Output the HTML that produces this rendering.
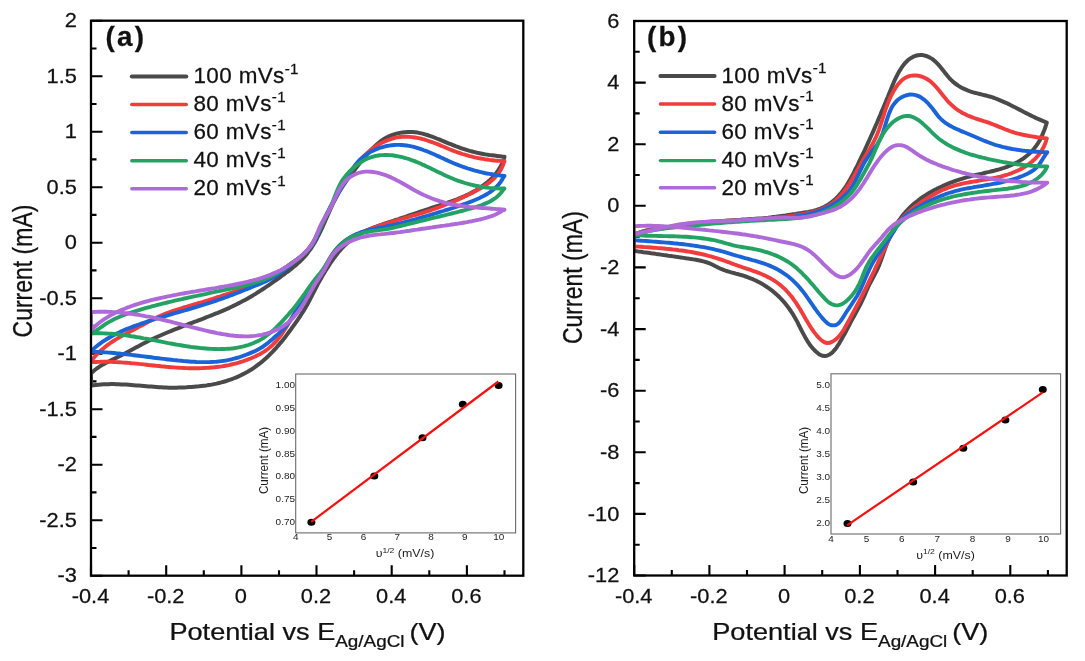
<!DOCTYPE html><html><head><meta charset="utf-8"><style>html,body{margin:0;padding:0;background:#fff;width:1085px;height:661px;overflow:hidden}svg{display:block;filter:blur(0.4px)}text{font-family:"Liberation Sans",sans-serif;fill:#111;stroke:#111;stroke-width:0.25px}text.sm{stroke:none;fill:#1c1c1c}</style></head><body>
<svg width="1085" height="661" viewBox="0 0 1085 661">
<defs><clipPath id="ca"><rect x="91.0" y="20.7" width="432.3" height="555.0"/></clipPath></defs>
<path d="M91.0,575.7v-10.5 M128.6,575.7v-5.5 M166.2,575.7v-10.5 M203.8,575.7v-5.5 M241.4,575.7v-10.5 M279.0,575.7v-5.5 M316.5,575.7v-10.5 M354.1,575.7v-5.5 M391.7,575.7v-10.5 M429.3,575.7v-5.5 M466.9,575.7v-10.5 M504.5,575.7v-5.5 M91.0,20.7h11.5 M91.0,48.5h5.5 M91.0,76.2h11.5 M91.0,104.0h5.5 M91.0,131.7h11.5 M91.0,159.4h5.5 M91.0,187.2h11.5 M91.0,214.9h5.5 M91.0,242.7h11.5 M91.0,270.4h5.5 M91.0,298.2h11.5 M91.0,325.9h5.5 M91.0,353.7h11.5 M91.0,381.4h5.5 M91.0,409.2h11.5 M91.0,436.9h5.5 M91.0,464.7h11.5 M91.0,492.4h5.5 M91.0,520.2h11.5 M91.0,548.0h5.5 M91.0,575.7h11.5" stroke="#000" stroke-width="2.1" fill="none"/>
<g clip-path="url(#ca)" fill="none" stroke-linejoin="round" stroke-linecap="round">
<path d="M91.0,373.5 L92.8,371.7 94.8,370.0 96.8,368.5 98.8,367.1 100.9,365.7 103.1,364.4 105.3,363.2 107.5,362.1 109.8,360.9 112.0,359.8 114.3,358.7 116.6,357.6 118.9,356.5 121.1,355.4 123.4,354.2 125.6,353.1 127.8,351.9 130.0,350.7 132.3,349.5 134.5,348.3 136.7,347.1 138.9,346.0 141.1,344.8 143.4,343.6 145.6,342.5 147.8,341.3 150.1,340.2 152.3,339.1 154.6,338.1 156.9,337.0 159.2,336.0 161.5,335.0 163.8,334.0 166.1,333.0 168.5,332.0 170.8,331.1 173.1,330.1 175.5,329.2 177.8,328.3 180.2,327.3 182.5,326.4 184.9,325.5 187.3,324.6 189.6,323.7 192.0,322.8 194.3,321.9 196.7,321.1 199.1,320.2 201.4,319.3 203.8,318.4 206.1,317.4 208.5,316.5 210.8,315.6 213.2,314.7 215.5,313.7 217.8,312.8 220.1,311.8 222.5,310.8 224.8,309.8 227.1,308.8 229.4,307.8 231.6,306.7 233.9,305.6 236.2,304.5 238.4,303.4 240.6,302.3 242.9,301.1 245.1,299.9 247.3,298.7 249.4,297.5 251.6,296.2 253.8,294.9 255.9,293.6 258.0,292.2 260.1,290.9 262.3,289.5 264.4,288.1 266.5,286.7 268.5,285.3 270.6,283.8 272.7,282.4 274.8,280.9 276.8,279.5 278.9,278.0 281.0,276.5 283.0,275.0 285.1,273.5 287.1,272.0 289.2,270.5 291.2,268.9 293.1,267.3 295.1,265.7 297.0,264.1 298.8,262.4 300.7,260.7 302.4,259.0 304.1,257.1 305.8,255.3 307.3,253.4 308.8,251.4 310.3,249.4 311.7,247.3 313.0,245.2 314.3,243.1 315.6,240.9 316.8,238.7 317.9,236.4 319.1,234.2 320.2,231.9 321.3,229.6 322.4,227.3 323.4,224.9 324.4,222.6 325.5,220.2 326.5,217.9 327.5,215.6 328.6,213.2 329.6,210.9 330.6,208.6 331.7,206.3 332.8,204.0 333.9,201.7 335.0,199.5 336.2,197.3 337.4,195.1 338.6,192.9 339.8,190.8 341.1,188.7 342.5,186.6 343.8,184.5 345.3,182.5 346.7,180.4 348.2,178.4 349.7,176.4 351.3,174.4 352.8,172.3 354.3,170.3 355.8,168.3 357.4,166.3 358.9,164.3 360.5,162.3 362.1,160.3 363.7,158.4 365.3,156.4 366.9,154.5 368.6,152.6 370.3,150.8 372.1,149.0 373.9,147.2 375.7,145.5 377.6,143.8 379.5,142.2 381.5,140.7 383.5,139.3 385.7,138.0 387.9,136.9 390.2,135.8 392.5,134.9 394.9,134.1 397.4,133.4 399.9,132.9 402.4,132.5 404.9,132.2 407.5,132.0 410.0,132.0 412.6,132.1 415.1,132.3 417.6,132.6 420.0,133.1 422.5,133.6 424.9,134.3 427.3,135.0 429.7,135.8 432.0,136.6 434.4,137.5 436.7,138.5 439.1,139.4 441.4,140.4 443.8,141.3 446.1,142.3 448.4,143.3 450.8,144.2 453.1,145.1 455.5,146.1 457.8,146.9 460.2,147.8 462.5,148.6 464.9,149.4 467.3,150.2 469.7,150.9 472.2,151.5 474.6,152.1 477.1,152.7 479.5,153.2 482.0,153.7 484.5,154.2 487.0,154.6 489.5,155.0 492.0,155.3 494.5,155.6 497.0,155.9 499.5,156.2 502.0,156.5 504.5,156.7  L503.8,159.2 502.9,161.6 501.9,163.9 500.8,166.2 499.5,168.3 498.2,170.4 496.7,172.5 495.2,174.4 493.6,176.3 491.9,178.1 490.1,179.9 488.2,181.6 486.3,183.2 484.3,184.7 482.2,186.2 480.1,187.7 478.0,189.0 475.8,190.4 473.6,191.6 471.4,192.8 469.1,194.0 466.8,195.1 464.6,196.1 462.2,197.1 459.9,198.1 457.6,199.1 455.2,200.0 452.9,200.8 450.5,201.7 448.1,202.5 445.8,203.3 443.4,204.1 441.0,204.9 438.6,205.7 436.2,206.4 433.8,207.2 431.4,208.0 429.0,208.8 426.6,209.6 424.2,210.4 421.9,211.2 419.5,212.0 417.1,212.8 414.7,213.6 412.3,214.4 410.0,215.2 407.6,216.0 405.2,216.9 402.8,217.7 400.4,218.5 398.0,219.3 395.6,220.0 393.2,220.8 390.8,221.6 388.4,222.4 386.0,223.2 383.6,224.0 381.2,224.8 378.8,225.6 376.4,226.5 374.1,227.4 371.7,228.3 369.4,229.3 367.1,230.4 364.9,231.5 362.6,232.6 360.4,233.8 358.3,235.1 356.1,236.4 354.1,237.8 352.0,239.3 350.0,240.8 348.1,242.4 346.2,244.0 344.4,245.7 342.6,247.5 340.9,249.4 339.2,251.3 337.6,253.2 336.1,255.2 334.6,257.2 333.1,259.3 331.6,261.3 330.2,263.4 328.8,265.6 327.5,267.7 326.1,269.8 324.8,272.0 323.5,274.1 322.2,276.3 321.0,278.5 319.7,280.7 318.5,282.9 317.3,285.1 316.2,287.4 315.0,289.6 313.9,291.9 312.7,294.1 311.6,296.3 310.4,298.6 309.3,300.8 308.1,303.0 306.9,305.2 305.6,307.4 304.4,309.5 303.1,311.6 301.7,313.7 300.4,315.8 299.0,317.9 297.6,320.0 296.1,322.1 294.7,324.1 293.2,326.2 291.8,328.2 290.3,330.3 288.8,332.3 287.2,334.4 285.7,336.4 284.1,338.4 282.5,340.4 280.9,342.4 279.3,344.3 277.6,346.2 276.0,348.1 274.2,350.0 272.5,351.8 270.7,353.6 269.0,355.4 267.1,357.2 265.3,358.9 263.4,360.5 261.5,362.1 259.5,363.7 257.5,365.2 255.5,366.7 253.5,368.1 251.4,369.5 249.2,370.8 247.1,372.1 244.9,373.3 242.6,374.4 240.4,375.5 238.1,376.6 235.8,377.6 233.4,378.5 231.1,379.4 228.7,380.2 226.3,381.0 223.8,381.7 221.4,382.4 219.0,383.0 216.5,383.6 214.0,384.1 211.5,384.6 209.0,385.0 206.5,385.4 204.0,385.7 201.5,386.0 199.0,386.3 196.5,386.5 194.0,386.7 191.5,386.9 189.0,387.1 186.5,387.3 184.0,387.4 181.5,387.5 179.0,387.6 176.4,387.7 173.9,387.7 171.4,387.7 168.9,387.7 166.4,387.6 163.9,387.5 161.4,387.3 158.9,387.2 156.4,387.0 153.8,386.8 151.3,386.6 148.8,386.4 146.3,386.2 143.8,386.0 141.3,385.8 138.8,385.6 136.3,385.4 133.7,385.2 131.2,385.0 128.7,384.8 126.2,384.6 123.7,384.5 121.2,384.4 118.7,384.3 116.1,384.2 113.6,384.1 111.1,384.1 108.6,384.2 106.1,384.2 103.6,384.3 101.1,384.5 98.5,384.7 96.0,384.9 93.5,385.2 91.0,385.6 Z" stroke="#4a4a4a" stroke-width="4.0"/>
<path d="M91.0,361.0 L92.6,359.1 94.3,357.2 96.0,355.3 97.8,353.5 99.6,351.7 101.4,350.0 103.3,348.4 105.3,346.8 107.3,345.2 109.3,343.8 111.3,342.3 113.4,341.0 115.6,339.6 117.7,338.4 119.9,337.1 122.1,335.9 124.3,334.7 126.5,333.5 128.8,332.3 131.0,331.1 133.2,330.0 135.5,328.8 137.7,327.6 139.9,326.4 142.2,325.2 144.4,324.0 146.6,322.8 148.8,321.6 151.0,320.5 153.2,319.3 155.5,318.2 157.7,317.1 160.0,316.0 162.3,315.0 164.6,314.1 167.0,313.2 169.3,312.3 171.7,311.4 174.0,310.6 176.4,309.8 178.8,309.0 181.2,308.3 183.6,307.5 186.1,306.8 188.5,306.1 190.9,305.4 193.3,304.7 195.8,304.0 198.2,303.2 200.6,302.5 203.0,301.8 205.4,301.0 207.8,300.3 210.2,299.5 212.6,298.8 215.0,298.0 217.4,297.2 219.8,296.5 222.2,295.7 224.6,294.9 227.0,294.1 229.4,293.3 231.8,292.5 234.2,291.7 236.5,290.8 238.9,290.0 241.3,289.2 243.7,288.3 246.0,287.5 248.4,286.6 250.7,285.7 253.1,284.8 255.4,283.8 257.7,282.8 260.0,281.8 262.3,280.8 264.5,279.8 266.8,278.7 269.0,277.5 271.2,276.3 273.4,275.1 275.6,273.9 277.8,272.6 279.9,271.2 282.0,269.8 284.1,268.4 286.2,267.0 288.3,265.5 290.4,264.1 292.5,262.6 294.6,261.2 296.7,259.7 298.8,258.2 300.8,256.7 302.7,255.0 304.5,253.4 306.2,251.6 307.9,249.7 309.4,247.8 310.8,245.7 312.2,243.7 313.5,241.5 314.7,239.3 315.9,237.1 317.0,234.8 318.1,232.5 319.2,230.2 320.3,227.9 321.4,225.6 322.4,223.4 323.5,221.1 324.6,218.8 325.7,216.6 326.8,214.4 328.0,212.2 329.1,209.9 330.3,207.7 331.4,205.5 332.6,203.3 333.8,201.1 334.9,198.9 336.1,196.6 337.3,194.4 338.5,192.2 339.7,189.9 341.0,187.7 342.2,185.5 343.5,183.3 344.8,181.1 346.1,179.0 347.5,176.8 348.9,174.7 350.3,172.6 351.7,170.5 353.2,168.5 354.7,166.5 356.3,164.5 357.9,162.6 359.5,160.7 361.2,158.8 362.9,157.0 364.7,155.3 366.6,153.6 368.5,151.9 370.4,150.3 372.4,148.8 374.4,147.3 376.5,145.9 378.7,144.5 380.9,143.3 383.1,142.1 385.4,141.1 387.7,140.1 390.1,139.3 392.4,138.5 394.8,137.9 397.3,137.4 399.8,137.0 402.2,136.8 404.7,136.7 407.3,136.7 409.8,136.9 412.3,137.1 414.8,137.5 417.4,137.9 419.9,138.4 422.4,139.0 424.8,139.7 427.3,140.5 429.7,141.3 432.0,142.1 434.4,143.0 436.7,143.9 439.1,144.9 441.4,145.9 443.7,146.8 446.0,147.8 448.3,148.8 450.6,149.7 452.9,150.6 455.2,151.5 457.6,152.4 460.0,153.2 462.4,154.0 464.8,154.7 467.2,155.4 469.6,156.1 472.1,156.7 474.6,157.3 477.0,157.8 479.5,158.3 482.0,158.7 484.5,159.2 487.0,159.5 489.5,159.9 492.0,160.2 494.5,160.5 497.0,160.7 499.5,160.9 502.0,161.1 504.5,161.2  L503.8,162.8 503.0,165.2 502.0,167.5 500.8,169.7 499.5,171.8 498.1,173.8 496.6,175.7 494.9,177.5 493.2,179.2 491.3,180.8 489.4,182.4 487.4,183.9 485.3,185.3 483.2,186.7 481.0,188.0 478.8,189.3 476.5,190.5 474.3,191.7 472.0,192.9 469.7,194.1 467.4,195.2 465.1,196.3 462.8,197.4 460.5,198.4 458.2,199.5 455.9,200.5 453.6,201.5 451.3,202.4 449.0,203.4 446.7,204.3 444.4,205.2 442.0,206.1 439.7,207.0 437.4,207.9 435.0,208.7 432.6,209.5 430.3,210.3 427.9,211.1 425.5,211.9 423.1,212.6 420.7,213.4 418.3,214.1 415.9,214.8 413.5,215.5 411.1,216.2 408.7,216.9 406.2,217.6 403.8,218.3 401.4,219.0 399.0,219.7 396.5,220.5 394.1,221.2 391.7,221.9 389.3,222.6 386.9,223.4 384.5,224.1 382.1,224.9 379.7,225.7 377.3,226.5 374.9,227.3 372.5,228.1 370.1,229.0 367.8,229.9 365.4,230.8 363.1,231.8 360.7,232.7 358.4,233.7 356.1,234.8 353.9,235.9 351.6,237.0 349.5,238.2 347.3,239.5 345.3,240.9 343.3,242.3 341.4,243.9 339.6,245.5 337.8,247.3 336.2,249.2 334.6,251.1 333.2,253.1 331.8,255.2 330.4,257.3 329.1,259.5 327.8,261.7 326.5,263.9 325.3,266.1 324.1,268.4 322.9,270.6 321.7,272.9 320.4,275.1 319.2,277.3 317.9,279.5 316.5,281.6 315.1,283.7 313.7,285.8 312.2,287.8 310.7,289.8 309.2,291.8 307.7,293.8 306.2,295.8 304.7,297.8 303.2,299.8 301.7,301.8 300.3,303.9 298.9,305.9 297.6,308.0 296.3,310.2 295.0,312.3 293.7,314.5 292.4,316.7 291.1,318.9 289.9,321.1 288.6,323.3 287.3,325.5 286.0,327.6 284.6,329.8 283.2,331.9 281.8,334.0 280.3,336.1 278.8,338.1 277.2,340.0 275.6,341.9 273.8,343.7 272.1,345.5 270.2,347.1 268.2,348.7 266.2,350.2 264.1,351.6 262.0,352.9 259.8,354.2 257.5,355.3 255.2,356.5 252.9,357.5 250.6,358.5 248.2,359.4 245.9,360.3 243.5,361.2 241.1,361.9 238.7,362.7 236.3,363.3 233.8,363.9 231.4,364.5 228.9,365.1 226.5,365.5 224.0,366.0 221.5,366.4 219.1,366.7 216.6,367.0 214.1,367.3 211.6,367.5 209.0,367.7 206.5,367.9 204.0,368.0 201.5,368.1 199.0,368.2 196.4,368.2 193.9,368.2 191.4,368.2 188.9,368.2 186.3,368.1 183.8,368.0 181.3,367.9 178.8,367.7 176.2,367.6 173.7,367.4 171.2,367.2 168.7,367.0 166.2,366.8 163.7,366.5 161.2,366.3 158.7,366.0 156.2,365.8 153.7,365.5 151.2,365.2 148.7,365.0 146.2,364.7 143.7,364.4 141.2,364.1 138.7,363.9 136.2,363.6 133.7,363.4 131.2,363.2 128.7,362.9 126.2,362.7 123.7,362.6 121.2,362.4 118.7,362.2 116.2,362.1 113.7,362.0 111.2,361.9 108.7,361.8 106.2,361.8 103.7,361.8 101.1,361.8 98.6,361.9 96.1,362.0 93.5,362.1 91.0,362.3 Z" stroke="#f03c3c" stroke-width="3.9"/>
<path d="M91.0,351.2 L92.9,349.5 94.7,347.8 96.7,346.2 98.7,344.6 100.7,343.1 102.7,341.7 104.8,340.3 106.9,339.0 109.1,337.7 111.2,336.5 113.4,335.3 115.7,334.1 117.9,333.0 120.2,331.9 122.5,330.9 124.8,329.9 127.1,328.9 129.5,328.0 131.8,327.1 134.2,326.2 136.5,325.3 138.9,324.5 141.3,323.6 143.7,322.8 146.0,322.0 148.4,321.2 150.8,320.5 153.2,319.7 155.6,319.0 158.0,318.2 160.4,317.5 162.8,316.8 165.2,316.1 167.7,315.3 170.1,314.6 172.5,313.9 174.9,313.2 177.3,312.5 179.7,311.9 182.1,311.2 184.5,310.5 187.0,309.8 189.4,309.1 191.8,308.4 194.2,307.7 196.6,306.9 199.0,306.2 201.4,305.5 203.8,304.7 206.2,304.0 208.6,303.2 211.0,302.5 213.3,301.7 215.7,300.9 218.1,300.0 220.5,299.2 222.8,298.4 225.2,297.5 227.6,296.6 229.9,295.7 232.3,294.9 234.6,294.0 237.0,293.0 239.3,292.1 241.7,291.2 244.0,290.3 246.3,289.3 248.7,288.4 251.0,287.4 253.3,286.5 255.7,285.5 258.0,284.6 260.3,283.6 262.6,282.6 264.9,281.6 267.2,280.6 269.5,279.5 271.7,278.3 273.8,277.1 276.0,275.8 278.1,274.5 280.1,273.1 282.1,271.6 284.1,270.0 286.1,268.5 288.1,266.9 290.0,265.3 292.0,263.7 294.0,262.1 295.9,260.5 297.9,258.8 299.8,257.2 301.7,255.6 303.6,253.9 305.4,252.1 307.1,250.4 308.8,248.5 310.4,246.6 311.9,244.7 313.3,242.6 314.6,240.5 315.8,238.3 316.9,236.1 317.9,233.7 319.0,231.4 319.9,229.0 320.9,226.7 321.9,224.3 322.9,222.0 323.9,219.7 325.0,217.4 326.1,215.1 327.2,212.9 328.4,210.7 329.5,208.5 330.7,206.3 331.9,204.1 333.2,202.0 334.4,199.8 335.6,197.7 336.9,195.5 338.1,193.3 339.4,191.2 340.6,189.0 341.9,186.8 343.1,184.6 344.4,182.3 345.6,180.1 346.9,177.9 348.1,175.6 349.5,173.5 350.8,171.3 352.2,169.2 353.7,167.1 355.2,165.1 356.8,163.2 358.4,161.3 360.2,159.5 362.0,157.9 364.0,156.3 366.0,154.8 368.1,153.4 370.2,152.1 372.5,151.0 374.7,149.9 377.1,148.9 379.4,148.0 381.8,147.3 384.3,146.6 386.7,146.0 389.2,145.6 391.7,145.2 394.2,145.0 396.7,144.9 399.2,144.9 401.7,145.0 404.1,145.2 406.6,145.5 409.0,145.9 411.4,146.4 413.8,146.9 416.2,147.6 418.6,148.3 421.0,149.1 423.4,150.0 425.7,150.8 428.1,151.8 430.4,152.8 432.8,153.8 435.1,154.8 437.4,155.9 439.8,156.9 442.1,158.0 444.4,159.1 446.7,160.1 449.1,161.2 451.4,162.2 453.7,163.2 456.0,164.2 458.4,165.1 460.7,166.0 463.1,166.9 465.4,167.7 467.8,168.5 470.1,169.2 472.5,169.9 474.9,170.6 477.3,171.2 479.7,171.8 482.1,172.4 484.5,173.0 486.9,173.5 489.4,173.9 491.9,174.3 494.4,174.7 496.9,175.1 499.4,175.4 501.9,175.7 504.5,176.0  L503.4,177.4 502.1,179.7 500.7,181.8 499.2,183.8 497.6,185.7 495.8,187.5 494.0,189.1 492.1,190.7 490.1,192.1 488.0,193.5 485.8,194.8 483.6,196.0 481.4,197.1 479.1,198.2 476.7,199.2 474.4,200.2 472.0,201.2 469.7,202.1 467.3,203.0 464.9,203.9 462.5,204.7 460.1,205.6 457.7,206.4 455.3,207.2 453.0,208.0 450.6,208.7 448.2,209.5 445.7,210.2 443.3,211.0 440.9,211.7 438.5,212.4 436.1,213.2 433.7,213.9 431.3,214.6 428.9,215.3 426.5,216.0 424.1,216.7 421.7,217.4 419.2,218.1 416.8,218.8 414.4,219.5 412.0,220.2 409.5,220.9 407.1,221.5 404.7,222.2 402.2,222.8 399.8,223.4 397.3,224.0 394.8,224.6 392.4,225.2 389.9,225.7 387.4,226.2 384.9,226.8 382.4,227.3 380.0,227.8 377.5,228.2 375.0,228.8 372.5,229.3 370.0,229.8 367.6,230.4 365.1,231.1 362.7,231.8 360.4,232.6 358.0,233.5 355.7,234.4 353.5,235.5 351.3,236.7 349.1,238.0 347.0,239.4 344.9,240.9 343.0,242.5 341.1,244.1 339.3,245.9 337.5,247.8 335.9,249.7 334.3,251.7 332.9,253.8 331.6,255.9 330.3,258.1 329.0,260.3 327.8,262.5 326.6,264.7 325.4,267.0 324.2,269.2 322.9,271.3 321.6,273.5 320.3,275.6 318.9,277.7 317.5,279.8 316.1,281.9 314.6,283.9 313.1,286.0 311.6,288.0 310.1,290.0 308.6,292.0 307.0,294.1 305.6,296.1 304.1,298.1 302.7,300.2 301.3,302.3 299.9,304.5 298.6,306.6 297.4,308.8 296.1,311.0 294.8,313.2 293.6,315.4 292.3,317.5 290.9,319.6 289.5,321.7 288.0,323.7 286.4,325.6 284.7,327.5 283.0,329.4 281.2,331.1 279.4,332.9 277.5,334.6 275.6,336.3 273.7,338.0 271.8,339.7 269.9,341.3 267.9,342.9 266.0,344.4 263.9,345.9 261.9,347.3 259.7,348.6 257.6,349.8 255.3,350.9 253.1,351.9 250.8,352.9 248.4,353.9 246.1,354.8 243.7,355.7 241.3,356.5 238.9,357.3 236.4,358.0 234.0,358.7 231.5,359.3 229.0,359.9 226.5,360.4 224.0,360.8 221.5,361.1 219.1,361.4 216.5,361.7 214.0,361.9 211.5,362.0 209.0,362.1 206.5,362.1 204.0,362.1 201.5,362.1 199.0,362.1 196.4,362.0 193.9,361.8 191.4,361.7 188.9,361.5 186.4,361.3 183.8,361.1 181.3,360.8 178.8,360.6 176.3,360.3 173.8,360.1 171.3,359.8 168.8,359.5 166.3,359.2 163.8,358.9 161.2,358.6 158.7,358.3 156.2,358.0 153.7,357.7 151.2,357.3 148.7,357.0 146.2,356.7 143.7,356.4 141.2,356.1 138.7,355.8 136.2,355.5 133.7,355.2 131.2,354.9 128.7,354.6 126.2,354.3 123.7,354.0 121.2,353.8 118.7,353.5 116.2,353.3 113.7,353.0 111.2,352.8 108.7,352.6 106.2,352.4 103.6,352.3 101.1,352.1 98.6,352.0 96.1,351.9 93.5,351.8 91.0,351.7 Z" stroke="#1b64d8" stroke-width="3.9"/>
<path d="M91.0,333.0 L93.3,332.2 95.4,331.1 97.5,329.7 99.6,328.3 101.6,326.8 103.7,325.3 105.8,323.9 107.9,322.6 110.1,321.4 112.3,320.2 114.5,319.1 116.8,318.0 119.1,317.0 121.4,316.0 123.8,315.1 126.1,314.2 128.5,313.4 130.9,312.6 133.3,311.8 135.7,311.1 138.1,310.3 140.5,309.6 143.0,308.9 145.4,308.2 147.8,307.5 150.2,306.9 152.7,306.2 155.1,305.6 157.5,304.9 160.0,304.3 162.4,303.7 164.8,303.1 167.3,302.5 169.7,301.9 172.2,301.3 174.6,300.7 177.1,300.2 179.5,299.6 182.0,299.1 184.4,298.5 186.9,298.0 189.3,297.4 191.8,296.9 194.2,296.4 196.7,295.9 199.1,295.3 201.6,294.8 204.0,294.3 206.5,293.8 209.0,293.2 211.4,292.7 213.9,292.2 216.3,291.7 218.8,291.2 221.3,290.6 223.7,290.1 226.2,289.6 228.7,289.0 231.1,288.5 233.6,288.0 236.1,287.4 238.5,286.9 241.0,286.3 243.5,285.7 245.9,285.1 248.4,284.5 250.8,283.8 253.2,283.2 255.6,282.5 258.0,281.7 260.4,280.9 262.8,280.0 265.1,279.1 267.4,278.2 269.6,277.2 271.9,276.1 274.1,274.9 276.3,273.7 278.4,272.4 280.5,271.0 282.6,269.6 284.7,268.1 286.7,266.7 288.8,265.2 290.9,263.7 293.0,262.2 295.1,260.8 297.2,259.3 299.3,257.8 301.3,256.3 303.2,254.7 305.0,253.0 306.7,251.2 308.3,249.3 309.8,247.4 311.2,245.3 312.6,243.2 313.8,241.1 315.1,238.9 316.2,236.6 317.3,234.4 318.4,232.1 319.5,229.8 320.6,227.5 321.6,225.2 322.7,222.9 323.8,220.6 324.9,218.3 326.1,216.1 327.2,213.9 328.3,211.6 329.4,209.4 330.5,207.1 331.5,204.8 332.5,202.5 333.4,200.1 334.3,197.7 335.3,195.4 336.2,193.0 337.1,190.7 338.1,188.4 339.2,186.1 340.3,183.9 341.5,181.7 342.8,179.6 344.3,177.6 345.8,175.7 347.4,173.8 349.1,172.0 350.9,170.2 352.8,168.5 354.7,166.8 356.8,165.1 358.8,163.6 361.0,162.2 363.1,160.8 365.4,159.6 367.7,158.5 370.0,157.6 372.4,156.8 374.8,156.2 377.2,155.7 379.7,155.3 382.2,155.1 384.7,155.0 387.2,155.0 389.7,155.1 392.2,155.3 394.7,155.7 397.2,156.1 399.6,156.6 402.1,157.1 404.5,157.8 406.9,158.5 409.3,159.2 411.6,160.1 414.0,160.9 416.3,161.9 418.6,162.8 420.9,163.8 423.2,164.9 425.5,165.9 427.8,167.0 430.1,168.1 432.3,169.2 434.6,170.3 436.9,171.4 439.2,172.5 441.5,173.6 443.7,174.7 446.0,175.8 448.3,176.8 450.6,177.8 453.0,178.8 455.3,179.7 457.7,180.6 460.0,181.4 462.4,182.2 464.8,183.0 467.2,183.7 469.7,184.3 472.1,184.9 474.5,185.5 477.0,186.0 479.5,186.5 481.9,186.9 484.4,187.3 486.9,187.6 489.4,187.9 491.9,188.1 494.4,188.3 496.9,188.4 499.5,188.5 502.0,188.5 504.5,188.5  L503.2,189.8 501.7,191.9 500.1,193.8 498.3,195.6 496.5,197.2 494.5,198.7 492.4,200.0 490.3,201.3 488.1,202.4 485.8,203.4 483.5,204.4 481.1,205.3 478.7,206.1 476.2,206.9 473.8,207.6 471.3,208.3 468.9,209.0 466.4,209.7 463.9,210.4 461.5,211.0 459.0,211.7 456.6,212.3 454.1,212.9 451.7,213.5 449.3,214.1 446.8,214.7 444.4,215.3 441.9,215.9 439.5,216.5 437.0,217.1 434.6,217.7 432.2,218.2 429.7,218.8 427.3,219.4 424.8,220.0 422.4,220.6 420.0,221.2 417.5,221.8 415.1,222.3 412.6,223.0 410.2,223.6 407.7,224.2 405.3,224.8 402.8,225.4 400.4,226.0 397.9,226.6 395.4,227.2 393.0,227.8 390.5,228.3 388.0,228.8 385.5,229.2 383.0,229.6 380.5,229.9 378.0,230.3 375.5,230.6 373.0,230.9 370.5,231.3 368.1,231.8 365.6,232.2 363.1,232.8 360.7,233.5 358.3,234.3 355.9,235.1 353.6,236.1 351.4,237.3 349.1,238.5 347.0,239.9 344.9,241.3 342.9,242.9 341.0,244.6 339.2,246.3 337.5,248.2 335.8,250.1 334.3,252.1 332.8,254.1 331.4,256.2 330.1,258.3 328.7,260.4 327.4,262.6 326.1,264.7 324.7,266.8 323.3,268.9 321.8,270.9 320.3,272.9 318.7,274.8 317.1,276.8 315.5,278.7 314.0,280.7 312.4,282.7 310.9,284.8 309.4,286.8 308.0,288.9 306.5,291.0 305.1,293.1 303.6,295.1 302.2,297.2 300.7,299.2 299.2,301.2 297.7,303.2 296.2,305.1 294.6,307.1 293.1,309.0 291.5,310.9 289.8,312.8 288.2,314.7 286.5,316.6 284.8,318.5 283.1,320.4 281.3,322.3 279.5,324.1 277.7,326.0 275.9,327.8 274.0,329.6 272.1,331.3 270.1,332.9 268.1,334.5 266.1,336.0 264.0,337.5 261.9,338.8 259.7,340.1 257.5,341.3 255.3,342.3 253.0,343.3 250.7,344.2 248.4,345.0 246.0,345.7 243.6,346.4 241.2,346.9 238.7,347.4 236.3,347.8 233.8,348.2 231.3,348.5 228.8,348.7 226.2,348.9 223.7,349.0 221.1,349.0 218.6,349.1 216.0,349.0 213.5,349.0 211.0,348.9 208.4,348.7 205.9,348.5 203.4,348.3 200.8,348.1 198.3,347.8 195.8,347.5 193.3,347.2 190.8,346.9 188.3,346.5 185.8,346.1 183.3,345.7 180.8,345.3 178.3,344.9 175.8,344.5 173.4,344.0 170.9,343.5 168.4,343.1 165.9,342.6 163.4,342.1 161.0,341.6 158.5,341.1 156.0,340.6 153.6,340.2 151.1,339.7 148.6,339.2 146.1,338.7 143.7,338.3 141.2,337.8 138.7,337.4 136.2,337.0 133.7,336.5 131.3,336.2 128.8,335.8 126.3,335.4 123.8,335.1 121.3,334.8 118.8,334.5 116.3,334.2 113.8,334.0 111.3,333.8 108.8,333.6 106.2,333.5 103.7,333.4 101.2,333.3 98.7,333.3 96.1,333.3 93.6,333.4 91.0,333.5 Z" stroke="#24a263" stroke-width="3.9"/>
<path d="M91.0,330.0 L92.8,328.2 94.7,326.5 96.6,324.9 98.6,323.3 100.6,321.8 102.6,320.3 104.7,318.9 106.8,317.6 108.9,316.3 111.1,315.1 113.3,313.9 115.5,312.8 117.8,311.7 120.1,310.6 122.4,309.6 124.7,308.7 127.0,307.7 129.4,306.9 131.8,306.0 134.2,305.2 136.6,304.4 139.0,303.7 141.4,302.9 143.8,302.2 146.3,301.5 148.7,300.9 151.1,300.2 153.6,299.6 156.0,299.0 158.5,298.5 160.9,297.9 163.4,297.4 165.8,296.8 168.3,296.3 170.8,295.8 173.2,295.3 175.7,294.9 178.2,294.4 180.6,293.9 183.1,293.5 185.6,293.0 188.1,292.6 190.5,292.2 193.0,291.8 195.5,291.4 198.0,290.9 200.5,290.5 202.9,290.1 205.4,289.7 207.9,289.3 210.4,288.9 212.9,288.5 215.3,288.1 217.8,287.6 220.3,287.2 222.8,286.8 225.2,286.3 227.7,285.9 230.2,285.4 232.6,285.0 235.1,284.5 237.6,284.0 240.0,283.5 242.5,283.0 244.9,282.4 247.4,281.8 249.8,281.2 252.2,280.6 254.7,280.0 257.1,279.3 259.5,278.6 261.9,277.8 264.2,277.0 266.6,276.2 269.0,275.3 271.3,274.4 273.6,273.4 275.9,272.4 278.2,271.3 280.5,270.2 282.7,269.0 284.9,267.7 287.1,266.4 289.3,265.1 291.4,263.7 293.5,262.2 295.5,260.7 297.5,259.2 299.5,257.6 301.4,255.9 303.2,254.2 305.0,252.5 306.8,250.7 308.4,248.9 310.0,246.9 311.5,245.0 312.8,242.9 314.0,240.7 315.1,238.5 316.1,236.1 317.0,233.8 318.0,231.4 318.9,229.1 319.9,226.7 321.0,224.5 322.2,222.3 323.4,220.1 324.7,218.0 325.9,215.8 327.2,213.7 328.5,211.5 329.7,209.4 330.9,207.1 332.0,204.8 333.1,202.5 334.2,200.2 335.2,197.8 336.3,195.5 337.4,193.2 338.6,191.0 339.8,188.8 341.2,186.6 342.6,184.6 344.2,182.6 345.8,180.8 347.7,179.1 349.6,177.5 351.7,176.1 353.8,174.9 356.0,173.8 358.3,173.0 360.7,172.3 363.1,171.9 365.6,171.6 368.1,171.6 370.6,171.7 373.1,172.0 375.6,172.4 378.1,172.9 380.6,173.6 383.1,174.4 385.6,175.2 388.0,176.1 390.3,177.1 392.6,178.2 394.9,179.3 397.1,180.4 399.4,181.6 401.5,182.8 403.7,184.0 405.9,185.2 408.0,186.5 410.2,187.7 412.3,189.0 414.5,190.2 416.7,191.4 418.9,192.5 421.1,193.7 423.3,194.8 425.6,195.8 427.9,196.8 430.3,197.8 432.6,198.7 435.0,199.6 437.4,200.4 439.8,201.2 442.2,201.9 444.7,202.6 447.1,203.2 449.6,203.8 452.1,204.3 454.5,204.8 457.0,205.2 459.5,205.6 462.0,206.0 464.4,206.3 466.9,206.6 469.4,206.9 471.9,207.1 474.4,207.4 476.9,207.6 479.4,207.8 481.9,208.0 484.4,208.1 486.9,208.3 489.4,208.5 492.0,208.7 494.5,208.9 497.0,209.1 499.5,209.3 502.0,209.5 504.5,209.8  L502.5,210.4 500.5,211.8 498.3,213.1 496.1,214.2 493.8,215.2 491.5,216.1 489.1,216.9 486.7,217.7 484.2,218.3 481.8,219.0 479.3,219.6 476.8,220.1 474.4,220.6 471.9,221.2 469.4,221.6 467.0,222.1 464.5,222.5 462.0,223.0 459.5,223.4 457.1,223.8 454.6,224.1 452.1,224.5 449.6,224.9 447.1,225.2 444.6,225.6 442.2,225.9 439.7,226.3 437.2,226.6 434.7,227.0 432.2,227.4 429.7,227.7 427.2,228.1 424.8,228.5 422.3,228.8 419.8,229.2 417.3,229.6 414.8,229.9 412.3,230.3 409.8,230.7 407.3,231.0 404.8,231.4 402.3,231.7 399.8,232.1 397.4,232.4 394.9,232.7 392.4,233.0 389.9,233.3 387.4,233.6 384.9,233.9 382.4,234.1 379.9,234.4 377.4,234.6 374.9,234.9 372.4,235.2 369.9,235.6 367.4,236.0 365.0,236.5 362.5,237.1 360.1,237.7 357.7,238.5 355.3,239.3 352.9,240.2 350.6,241.2 348.4,242.3 346.1,243.5 344.0,244.8 341.9,246.2 339.9,247.7 337.9,249.3 336.1,251.1 334.4,252.9 332.8,254.8 331.4,256.9 330.1,259.0 328.9,261.2 327.8,263.4 326.6,265.7 325.4,267.9 324.2,270.1 322.8,272.2 321.5,274.3 320.1,276.4 318.7,278.5 317.3,280.6 315.9,282.7 314.6,284.8 313.3,287.0 312.1,289.2 310.8,291.3 309.6,293.5 308.4,295.7 307.1,297.9 305.8,300.1 304.6,302.3 303.2,304.4 301.9,306.5 300.5,308.6 299.0,310.7 297.5,312.7 295.9,314.6 294.3,316.5 292.6,318.3 290.8,320.1 289.0,321.8 287.0,323.4 285.0,324.9 282.9,326.3 280.7,327.7 278.4,328.9 276.1,330.0 273.8,331.1 271.4,332.0 269.0,332.8 266.6,333.6 264.2,334.2 261.7,334.8 259.3,335.2 256.8,335.6 254.4,335.9 251.9,336.1 249.4,336.3 246.9,336.4 244.4,336.4 242.0,336.3 239.5,336.2 237.0,336.0 234.5,335.8 231.9,335.5 229.4,335.2 226.9,334.8 224.4,334.4 221.9,334.0 219.4,333.5 217.0,333.1 214.5,332.5 212.0,332.0 209.5,331.5 207.1,330.9 204.6,330.3 202.1,329.7 199.7,329.1 197.3,328.5 194.8,327.9 192.4,327.3 190.0,326.7 187.5,326.1 185.1,325.4 182.7,324.8 180.3,324.2 177.8,323.6 175.4,323.0 173.0,322.3 170.6,321.7 168.1,321.1 165.7,320.5 163.3,320.0 160.8,319.4 158.4,318.8 155.9,318.3 153.5,317.7 151.0,317.2 148.5,316.7 146.1,316.3 143.6,315.8 141.1,315.4 138.6,314.9 136.1,314.5 133.6,314.2 131.2,313.8 128.7,313.5 126.2,313.2 123.7,312.9 121.1,312.6 118.6,312.4 116.1,312.2 113.6,312.1 111.1,312.0 108.6,311.9 106.1,311.8 103.6,311.8 101.1,311.8 98.5,311.8 96.0,311.9 93.5,312.0 91.0,312.2 Z" stroke="#ad6ad8" stroke-width="3.9"/>
</g>
<rect x="91.0" y="20.7" width="432.3" height="555.0" fill="none" stroke="#000" stroke-width="2.3"/>
<text transform="translate(90.5,603.2) scale(1.070,1)" font-size="20.4" text-anchor="middle" font-weight="normal" >-0.4</text>
<text transform="translate(165.7,603.2) scale(1.070,1)" font-size="20.4" text-anchor="middle" font-weight="normal" >-0.2</text>
<text transform="translate(240.9,603.2) scale(1.070,1)" font-size="20.4" text-anchor="middle" font-weight="normal" >0</text>
<text transform="translate(316.0,603.2) scale(1.070,1)" font-size="20.4" text-anchor="middle" font-weight="normal" >0.2</text>
<text transform="translate(391.2,603.2) scale(1.070,1)" font-size="20.4" text-anchor="middle" font-weight="normal" >0.4</text>
<text transform="translate(466.4,603.2) scale(1.070,1)" font-size="20.4" text-anchor="middle" font-weight="normal" >0.6</text>
<text transform="translate(76.9,27.3) scale(1.070,1)" font-size="20.4" text-anchor="end" font-weight="normal" >2</text>
<text transform="translate(76.9,82.8) scale(1.070,1)" font-size="20.4" text-anchor="end" font-weight="normal" >1.5</text>
<text transform="translate(76.9,138.3) scale(1.070,1)" font-size="20.4" text-anchor="end" font-weight="normal" >1</text>
<text transform="translate(76.9,193.8) scale(1.070,1)" font-size="20.4" text-anchor="end" font-weight="normal" >0.5</text>
<text transform="translate(76.9,249.3) scale(1.070,1)" font-size="20.4" text-anchor="end" font-weight="normal" >0</text>
<text transform="translate(76.9,304.8) scale(1.070,1)" font-size="20.4" text-anchor="end" font-weight="normal" >-0.5</text>
<text transform="translate(76.9,360.3) scale(1.070,1)" font-size="20.4" text-anchor="end" font-weight="normal" >-1</text>
<text transform="translate(76.9,415.8) scale(1.070,1)" font-size="20.4" text-anchor="end" font-weight="normal" >-1.5</text>
<text transform="translate(76.9,471.3) scale(1.070,1)" font-size="20.4" text-anchor="end" font-weight="normal" >-2</text>
<text transform="translate(76.9,526.8) scale(1.070,1)" font-size="20.4" text-anchor="end" font-weight="normal" >-2.5</text>
<text transform="translate(76.9,582.3) scale(1.070,1)" font-size="20.4" text-anchor="end" font-weight="normal" >-3</text>
<defs><clipPath id="cb"><rect x="634.2" y="21.0" width="432.5" height="554.5"/></clipPath></defs>
<path d="M634.2,575.5v-10.5 M671.8,575.5v-5.5 M709.4,575.5v-10.5 M747.0,575.5v-5.5 M784.6,575.5v-10.5 M822.2,575.5v-5.5 M859.9,575.5v-10.5 M897.5,575.5v-5.5 M935.1,575.5v-10.5 M972.7,575.5v-5.5 M1010.3,575.5v-10.5 M1047.9,575.5v-5.5 M634.2,21.0h11.5 M634.2,51.8h5.5 M634.2,82.6h11.5 M634.2,113.4h5.5 M634.2,144.2h11.5 M634.2,175.0h5.5 M634.2,205.8h11.5 M634.2,236.6h5.5 M634.2,267.4h11.5 M634.2,298.2h5.5 M634.2,329.1h11.5 M634.2,359.9h5.5 M634.2,390.7h11.5 M634.2,421.5h5.5 M634.2,452.3h11.5 M634.2,483.1h5.5 M634.2,513.9h11.5 M634.2,544.7h5.5 M634.2,575.5h11.5" stroke="#000" stroke-width="2.1" fill="none"/>
<g clip-path="url(#cb)" fill="none" stroke-linejoin="round" stroke-linecap="round">
<path d="M633.5,235.0 L635.8,233.9 638.2,233.0 640.6,232.1 643.0,231.4 645.4,230.8 647.9,230.2 650.3,229.7 652.8,229.3 655.3,228.9 657.8,228.5 660.3,228.2 662.8,227.8 665.3,227.5 667.8,227.1 670.3,226.8 672.8,226.4 675.3,226.0 677.8,225.7 680.3,225.3 682.8,225.0 685.3,224.7 687.8,224.3 690.3,224.0 692.8,223.7 695.3,223.4 697.8,223.1 700.3,222.8 702.8,222.5 705.3,222.3 707.8,222.0 710.3,221.8 712.8,221.6 715.3,221.4 717.9,221.2 720.4,221.0 722.9,220.9 725.4,220.7 727.9,220.5 730.5,220.4 733.0,220.2 735.5,220.1 738.0,219.9 740.6,219.8 743.1,219.6 745.6,219.5 748.1,219.3 750.6,219.1 753.1,219.0 755.7,218.8 758.2,218.6 760.7,218.4 763.2,218.2 765.7,217.9 768.2,217.7 770.7,217.4 773.2,217.1 775.7,216.8 778.1,216.4 780.6,216.1 783.1,215.7 785.6,215.4 788.1,215.0 790.6,214.6 793.1,214.2 795.6,213.9 798.1,213.5 800.6,213.1 803.1,212.7 805.7,212.3 808.2,211.9 810.7,211.4 813.2,210.9 815.6,210.3 818.0,209.5 820.4,208.7 822.7,207.7 824.9,206.5 827.1,205.3 829.2,203.9 831.3,202.5 833.3,200.9 835.2,199.3 837.0,197.5 838.7,195.7 840.3,193.9 841.9,191.9 843.4,190.0 844.9,187.9 846.3,185.8 847.6,183.7 848.9,181.5 850.2,179.3 851.4,177.1 852.6,174.9 853.8,172.6 854.9,170.3 856.1,168.0 857.2,165.8 858.3,163.5 859.4,161.2 860.5,158.9 861.6,156.6 862.7,154.3 863.8,152.0 864.9,149.8 865.9,147.5 867.0,145.2 868.0,142.9 869.1,140.6 870.1,138.3 871.1,136.0 872.2,133.7 873.2,131.4 874.2,129.1 875.2,126.8 876.2,124.5 877.2,122.2 878.2,119.9 879.2,117.5 880.2,115.2 881.1,112.9 882.1,110.6 883.1,108.3 884.0,106.0 885.0,103.7 886.0,101.3 886.9,99.0 887.9,96.7 888.8,94.4 889.8,92.1 890.7,89.7 891.7,87.4 892.6,85.1 893.6,82.8 894.6,80.5 895.7,78.2 896.8,75.9 898.0,73.6 899.2,71.4 900.6,69.2 902.0,67.0 903.6,64.9 905.3,62.9 907.1,61.0 909.0,59.3 911.1,57.9 913.3,56.7 915.6,55.8 918.0,55.2 920.5,55.0 922.9,55.1 925.3,55.7 927.7,56.5 929.9,57.6 932.1,58.9 934.0,60.4 935.9,62.1 937.7,63.9 939.4,65.8 941.0,67.8 942.6,69.8 944.2,71.8 945.8,73.8 947.4,75.8 949.1,77.8 950.8,79.6 952.6,81.4 954.5,83.0 956.6,84.5 958.6,85.9 960.8,87.2 963.0,88.4 965.3,89.4 967.6,90.4 970.0,91.3 972.4,92.1 974.8,92.8 977.3,93.4 979.7,94.0 982.2,94.6 984.6,95.2 987.1,95.8 989.5,96.5 991.9,97.2 994.3,98.0 996.6,98.9 999.0,99.8 1001.3,100.8 1003.6,101.8 1005.9,102.8 1008.2,103.9 1010.4,105.0 1012.7,106.2 1014.9,107.3 1017.2,108.5 1019.4,109.6 1021.7,110.8 1023.9,112.0 1026.1,113.1 1028.4,114.3 1030.6,115.4 1032.9,116.5 1035.2,117.6 1037.5,118.7 1039.8,119.7 1042.1,120.7 1044.4,121.6 1046.8,122.5  L1046.1,124.9 1045.3,127.3 1044.5,129.7 1043.5,132.0 1042.6,134.4 1041.5,136.7 1040.4,138.9 1039.2,141.2 1037.9,143.3 1036.5,145.4 1035.0,147.4 1033.5,149.4 1031.8,151.3 1030.0,153.0 1028.1,154.7 1026.2,156.3 1024.2,157.9 1022.1,159.3 1019.9,160.6 1017.8,161.9 1015.5,163.1 1013.2,164.2 1010.9,165.2 1008.6,166.2 1006.3,167.1 1003.9,167.9 1001.5,168.6 999.1,169.4 996.6,170.0 994.2,170.7 991.8,171.3 989.3,171.9 986.8,172.4 984.4,173.0 981.9,173.6 979.5,174.1 977.0,174.7 974.5,175.3 972.1,175.9 969.7,176.5 967.2,177.1 964.8,177.8 962.4,178.6 960.0,179.3 957.7,180.1 955.3,180.9 952.9,181.8 950.6,182.7 948.2,183.6 945.9,184.6 943.6,185.6 941.3,186.7 939.0,187.8 936.7,188.9 934.4,190.1 932.2,191.3 930.0,192.5 927.9,193.8 925.7,195.2 923.6,196.5 921.5,198.0 919.5,199.4 917.5,201.0 915.5,202.5 913.6,204.1 911.7,205.8 909.9,207.5 908.1,209.3 906.4,211.1 904.7,213.0 903.1,214.9 901.6,216.8 900.1,218.9 898.6,220.9 897.2,223.0 895.9,225.2 894.6,227.4 893.4,229.6 892.2,231.8 891.1,234.1 890.0,236.4 889.0,238.8 888.0,241.1 887.0,243.4 886.1,245.8 885.2,248.2 884.4,250.6 883.6,252.9 882.8,255.3 881.9,257.7 881.1,260.0 880.2,262.3 879.3,264.7 878.4,267.0 877.3,269.3 876.2,271.5 875.0,273.8 873.9,276.0 872.7,278.2 871.5,280.5 870.3,282.7 869.2,285.0 868.1,287.2 867.1,289.5 866.1,291.8 865.1,294.1 864.1,296.4 863.1,298.7 862.0,301.0 860.9,303.3 859.7,305.5 858.5,307.8 857.3,310.0 856.1,312.3 854.9,314.5 853.7,316.7 852.5,318.9 851.3,321.1 850.1,323.3 849.0,325.5 847.9,327.7 846.7,329.8 845.6,332.0 844.4,334.2 843.2,336.4 842.0,338.6 840.7,340.8 839.4,343.1 837.9,345.3 836.5,347.6 834.9,349.7 833.1,351.7 831.2,353.4 829.1,354.8 826.9,355.8 824.5,356.1 822.3,355.8 820.1,354.8 818.0,353.3 816.1,351.7 814.3,350.0 812.6,348.1 811.0,346.2 809.5,344.2 808.1,342.2 806.8,340.0 805.5,337.8 804.3,335.6 803.1,333.4 801.9,331.1 800.7,328.8 799.6,326.5 798.4,324.2 797.3,321.9 796.1,319.7 794.8,317.5 793.5,315.3 792.2,313.1 790.8,311.0 789.4,309.0 787.9,306.9 786.4,305.0 784.8,303.0 783.2,301.1 781.5,299.3 779.8,297.5 778.0,295.8 776.2,294.1 774.3,292.5 772.4,290.9 770.4,289.4 768.3,287.9 766.2,286.5 764.1,285.1 761.9,283.8 759.7,282.6 757.4,281.4 755.1,280.3 752.8,279.2 750.5,278.3 748.1,277.3 745.7,276.5 743.3,275.7 740.9,275.0 738.5,274.3 736.0,273.7 733.6,273.0 731.2,272.4 728.8,271.7 726.4,271.0 724.1,270.1 721.7,269.2 719.5,268.2 717.2,267.1 714.9,265.9 712.7,264.8 710.4,263.7 708.1,262.8 705.7,262.0 703.3,261.4 700.8,260.8 698.3,260.3 695.9,259.8 693.4,259.4 690.9,259.0 688.4,258.6 685.9,258.3 683.4,257.9 680.9,257.5 678.4,257.1 675.9,256.8 673.4,256.4 670.9,256.0 668.4,255.7 665.9,255.3 663.4,255.0 660.9,254.6 658.5,254.2 656.0,253.9 653.5,253.5 651.0,253.2 648.5,252.8 646.0,252.5 643.5,252.2 641.0,251.8 638.5,251.5 636.0,251.1 633.5,250.8 Z" stroke="#4a4a4a" stroke-width="4.0"/>
<path d="M633.5,235.0 L635.8,233.9 638.2,233.0 640.6,232.2 643.0,231.4 645.4,230.8 647.9,230.2 650.3,229.7 652.8,229.3 655.3,228.9 657.8,228.5 660.3,228.1 662.8,227.8 665.3,227.4 667.8,227.1 670.3,226.7 672.8,226.4 675.3,226.1 677.8,225.7 680.3,225.4 682.8,225.1 685.3,224.8 687.9,224.5 690.4,224.2 692.9,223.9 695.4,223.7 697.9,223.4 700.4,223.1 703.0,222.9 705.5,222.6 708.0,222.4 710.5,222.2 713.0,222.0 715.5,221.8 718.0,221.6 720.6,221.4 723.1,221.3 725.6,221.1 728.1,221.0 730.6,220.8 733.1,220.7 735.6,220.5 738.1,220.4 740.7,220.2 743.2,220.1 745.7,219.9 748.2,219.8 750.7,219.6 753.2,219.5 755.7,219.3 758.2,219.1 760.7,219.0 763.3,218.8 765.8,218.6 768.3,218.4 770.8,218.2 773.3,218.0 775.8,217.7 778.4,217.5 780.9,217.2 783.4,216.9 785.9,216.6 788.4,216.3 791.0,216.0 793.5,215.6 796.0,215.3 798.5,214.9 801.1,214.5 803.6,214.0 806.1,213.5 808.6,213.0 811.1,212.5 813.6,211.8 816.0,211.1 818.4,210.4 820.8,209.5 823.1,208.6 825.4,207.5 827.6,206.4 829.7,205.1 831.8,203.7 833.8,202.1 835.7,200.5 837.6,198.8 839.4,196.9 841.1,195.0 842.7,193.1 844.3,191.1 845.9,189.0 847.3,186.9 848.7,184.8 850.1,182.7 851.4,180.6 852.7,178.4 853.9,176.2 855.2,174.0 856.4,171.8 857.6,169.6 858.8,167.4 860.0,165.2 861.3,163.0 862.5,160.8 863.8,158.6 865.1,156.4 866.4,154.3 867.8,152.1 869.1,149.9 870.4,147.7 871.6,145.5 872.9,143.3 874.0,141.1 875.1,138.8 876.2,136.6 877.2,134.3 878.1,132.0 879.0,129.6 879.8,127.3 880.6,124.9 881.4,122.5 882.2,120.1 882.9,117.7 883.7,115.4 884.4,113.0 885.2,110.6 886.0,108.2 886.9,105.8 887.8,103.4 888.7,101.1 889.7,98.7 890.8,96.4 892.0,94.1 893.2,91.8 894.5,89.6 896.0,87.3 897.5,85.1 899.2,83.1 901.0,81.2 902.9,79.4 904.9,78.0 907.1,76.9 909.3,76.1 911.7,75.6 914.1,75.4 916.6,75.5 919.0,75.9 921.4,76.5 923.8,77.4 926.0,78.5 928.2,79.8 930.2,81.2 932.1,82.9 933.9,84.6 935.7,86.5 937.4,88.4 939.1,90.4 940.7,92.5 942.3,94.5 943.9,96.6 945.6,98.6 947.2,100.5 948.9,102.3 950.7,104.1 952.5,105.8 954.4,107.4 956.3,109.0 958.3,110.4 960.4,111.7 962.5,113.0 964.8,114.1 967.1,115.2 969.4,116.2 971.8,117.1 974.2,118.0 976.6,118.8 979.0,119.6 981.4,120.4 983.8,121.2 986.2,121.9 988.6,122.7 991.0,123.6 993.4,124.5 995.7,125.4 998.0,126.4 1000.4,127.3 1002.7,128.3 1005.0,129.2 1007.4,130.1 1009.7,131.0 1012.1,131.8 1014.5,132.6 1017.0,133.3 1019.4,133.9 1021.9,134.5 1024.3,135.0 1026.8,135.5 1029.3,136.0 1031.8,136.4 1034.3,136.8 1036.8,137.2 1039.3,137.5 1041.8,137.8 1044.3,138.1 1046.8,138.4  L1046.1,141.0 1045.2,143.4 1044.2,145.8 1043.1,148.1 1041.8,150.3 1040.5,152.3 1039.0,154.4 1037.4,156.3 1035.8,158.1 1034.0,159.8 1032.1,161.5 1030.2,163.1 1028.2,164.6 1026.1,166.0 1024.0,167.3 1021.8,168.5 1019.6,169.7 1017.3,170.8 1015.0,171.8 1012.6,172.8 1010.3,173.7 1007.9,174.5 1005.5,175.2 1003.1,175.9 1000.6,176.6 998.2,177.1 995.7,177.7 993.2,178.2 990.8,178.7 988.3,179.1 985.8,179.5 983.3,179.9 980.8,180.4 978.3,180.8 975.8,181.2 973.3,181.6 970.9,182.0 968.4,182.5 965.9,182.9 963.4,183.4 961.0,184.0 958.6,184.6 956.1,185.2 953.7,185.9 951.3,186.7 948.9,187.5 946.6,188.4 944.2,189.3 941.9,190.3 939.6,191.4 937.3,192.5 935.1,193.7 932.8,194.9 930.6,196.1 928.4,197.5 926.3,198.8 924.1,200.2 922.0,201.6 919.9,203.1 917.9,204.5 915.8,206.0 913.8,207.6 911.9,209.1 909.9,210.7 908.1,212.4 906.2,214.1 904.5,215.8 902.8,217.6 901.2,219.5 899.6,221.4 898.1,223.4 896.7,225.5 895.4,227.6 894.1,229.7 892.8,231.9 891.6,234.1 890.4,236.4 889.3,238.7 888.1,241.0 887.0,243.3 886.0,245.6 884.9,247.9 883.8,250.2 882.7,252.5 881.7,254.8 880.6,257.1 879.5,259.4 878.4,261.7 877.4,264.0 876.3,266.2 875.2,268.5 874.2,270.8 873.1,273.1 872.0,275.3 870.9,277.6 869.8,279.9 868.8,282.1 867.7,284.4 866.6,286.6 865.5,288.9 864.3,291.1 863.2,293.4 862.1,295.6 861.0,297.8 859.8,300.1 858.7,302.3 857.5,304.5 856.3,306.7 855.1,309.0 853.9,311.2 852.7,313.4 851.5,315.6 850.3,317.9 849.1,320.1 847.9,322.3 846.7,324.5 845.4,326.8 844.2,329.0 842.9,331.1 841.4,333.2 839.9,335.2 838.2,337.1 836.3,338.9 834.2,340.6 831.9,341.9 829.5,342.8 827.2,343.0 824.9,342.5 822.8,341.3 820.8,339.7 818.9,337.8 817.1,335.9 815.5,333.9 813.9,331.9 812.5,329.8 811.1,327.8 809.7,325.6 808.4,323.5 807.1,321.3 805.8,319.2 804.6,317.0 803.3,314.8 802.0,312.6 800.8,310.4 799.5,308.3 798.1,306.1 796.8,304.0 795.4,301.9 793.9,299.9 792.5,297.8 790.9,295.8 789.3,293.9 787.6,292.0 785.9,290.2 784.1,288.4 782.2,286.7 780.3,285.1 778.3,283.5 776.3,282.0 774.2,280.6 772.1,279.3 769.9,278.0 767.7,276.9 765.4,275.8 763.1,274.7 760.8,273.8 758.5,272.8 756.1,271.9 753.7,271.1 751.4,270.2 749.0,269.4 746.5,268.6 744.1,267.8 741.7,267.0 739.3,266.2 737.0,265.3 734.6,264.5 732.2,263.6 729.9,262.7 727.5,261.9 725.1,261.0 722.8,260.2 720.4,259.4 718.0,258.6 715.6,257.8 713.2,257.1 710.8,256.4 708.4,255.8 705.9,255.1 703.5,254.5 701.1,254.0 698.6,253.5 696.1,253.0 693.7,252.5 691.2,252.0 688.7,251.6 686.2,251.2 683.7,250.8 681.2,250.5 678.7,250.2 676.2,249.8 673.7,249.6 671.2,249.3 668.6,249.0 666.1,248.8 663.6,248.5 661.1,248.3 658.6,248.1 656.1,247.9 653.5,247.7 651.0,247.5 648.5,247.3 646.0,247.1 643.5,247.0 641.0,246.8 638.5,246.6 636.0,246.5 633.5,246.3 Z" stroke="#f03c3c" stroke-width="3.9"/>
<path d="M633.5,235.0 L635.9,234.1 638.2,233.3 640.6,232.6 643.0,231.9 645.4,231.2 647.9,230.6 650.3,230.1 652.8,229.6 655.2,229.1 657.7,228.7 660.2,228.3 662.7,227.9 665.2,227.5 667.7,227.2 670.2,226.9 672.7,226.6 675.2,226.3 677.7,226.1 680.2,225.8 682.8,225.6 685.3,225.3 687.8,225.1 690.3,224.8 692.8,224.6 695.3,224.4 697.8,224.1 700.3,223.9 702.8,223.7 705.3,223.5 707.8,223.2 710.3,223.0 712.8,222.8 715.3,222.6 717.8,222.4 720.3,222.2 722.8,222.0 725.3,221.8 727.7,221.6 730.2,221.4 732.7,221.2 735.2,221.1 737.7,220.9 740.2,220.7 742.7,220.5 745.2,220.3 747.7,220.2 750.3,220.0 752.8,219.8 755.3,219.6 757.8,219.5 760.3,219.3 762.8,219.1 765.3,218.9 767.8,218.8 770.3,218.6 772.9,218.4 775.4,218.3 777.9,218.1 780.4,217.9 783.0,217.7 785.5,217.5 788.0,217.2 790.5,217.0 793.0,216.7 795.5,216.4 798.0,216.0 800.4,215.6 802.9,215.2 805.4,214.7 807.8,214.2 810.2,213.6 812.6,213.0 815.0,212.3 817.4,211.5 819.8,210.7 822.1,209.8 824.4,208.8 826.7,207.8 829.0,206.7 831.3,205.5 833.5,204.2 835.7,202.8 837.8,201.4 839.9,199.8 841.9,198.2 843.8,196.5 845.6,194.7 847.4,192.9 849.0,190.9 850.5,188.9 851.9,186.8 853.2,184.7 854.5,182.5 855.7,180.3 856.8,178.0 857.9,175.7 859.0,173.5 860.1,171.2 861.2,168.9 862.3,166.6 863.4,164.4 864.6,162.2 865.9,160.1 867.3,158.0 868.7,156.0 870.1,154.0 871.6,152.0 873.1,150.0 874.5,148.0 876.0,146.0 877.4,144.0 878.7,141.8 879.9,139.7 881.0,137.4 882.0,135.1 882.9,132.7 883.7,130.2 884.5,127.7 885.3,125.2 886.0,122.7 886.8,120.2 887.6,117.7 888.4,115.3 889.3,112.9 890.3,110.6 891.3,108.3 892.5,106.2 893.9,104.2 895.4,102.3 897.0,100.6 898.9,99.0 901.0,97.6 903.3,96.4 905.7,95.5 908.3,94.8 910.8,94.5 913.2,94.6 915.6,95.1 917.9,95.9 920.2,96.9 922.3,98.3 924.4,99.8 926.3,101.6 928.2,103.4 929.9,105.4 931.6,107.4 933.2,109.5 934.7,111.5 936.2,113.5 937.7,115.5 939.3,117.4 941.0,119.1 942.8,120.7 944.7,122.3 946.7,123.7 948.8,125.0 951.0,126.2 953.2,127.4 955.4,128.5 957.8,129.5 960.1,130.6 962.5,131.6 964.8,132.5 967.2,133.5 969.6,134.5 971.9,135.5 974.3,136.5 976.6,137.5 978.9,138.5 981.2,139.5 983.5,140.5 985.8,141.4 988.1,142.3 990.5,143.2 992.8,144.0 995.2,144.8 997.6,145.5 1000.0,146.2 1002.4,146.9 1004.8,147.4 1007.3,148.0 1009.8,148.5 1012.2,149.0 1014.7,149.4 1017.2,149.8 1019.7,150.1 1022.2,150.5 1024.7,150.8 1027.2,151.0 1029.8,151.3 1032.3,151.5 1034.8,151.7 1037.3,151.8 1039.8,152.0 1042.3,152.1 1044.8,152.2 1047.3,152.3  L1045.8,154.2 1044.4,156.3 1043.0,158.5 1041.7,160.7 1040.3,162.8 1038.8,164.9 1037.2,166.8 1035.4,168.6 1033.5,170.2 1031.4,171.5 1029.2,172.8 1026.9,173.9 1024.6,175.0 1022.3,176.0 1020.0,176.9 1017.6,177.8 1015.2,178.6 1012.8,179.3 1010.4,180.0 1008.0,180.7 1005.5,181.3 1003.1,181.9 1000.6,182.5 998.2,183.0 995.7,183.5 993.2,183.9 990.7,184.4 988.2,184.8 985.7,185.2 983.3,185.7 980.8,186.1 978.3,186.5 975.8,186.9 973.3,187.3 970.8,187.8 968.3,188.2 965.8,188.7 963.4,189.2 960.9,189.7 958.5,190.3 956.0,190.9 953.6,191.6 951.2,192.3 948.8,193.0 946.4,193.8 944.1,194.7 941.7,195.6 939.4,196.5 937.1,197.5 934.8,198.5 932.5,199.6 930.2,200.7 928.0,201.8 925.7,203.0 923.5,204.2 921.3,205.5 919.1,206.7 916.9,208.0 914.7,209.3 912.6,210.7 910.5,212.1 908.4,213.5 906.4,215.1 904.6,216.7 902.8,218.4 901.1,220.3 899.6,222.2 898.2,224.3 896.8,226.4 895.5,228.6 894.2,230.8 892.8,232.9 891.5,235.1 890.1,237.2 888.7,239.3 887.2,241.3 885.8,243.4 884.3,245.4 882.9,247.5 881.4,249.5 880.0,251.6 878.5,253.7 877.1,255.7 875.8,257.8 874.4,260.0 873.2,262.1 871.9,264.3 870.8,266.5 869.6,268.8 868.6,271.1 867.5,273.4 866.5,275.7 865.5,278.0 864.5,280.4 863.5,282.7 862.5,285.0 861.5,287.3 860.4,289.6 859.3,291.8 858.1,294.0 856.9,296.2 855.6,298.3 854.3,300.3 852.9,302.4 851.5,304.5 850.1,306.6 848.7,308.7 847.2,310.8 845.8,313.0 844.4,315.3 842.9,317.6 841.5,319.8 839.9,321.9 838.2,323.6 836.2,324.8 834.1,325.4 831.8,325.3 829.6,324.6 827.5,323.3 825.5,321.5 823.7,319.6 821.9,317.6 820.3,315.6 818.7,313.6 817.1,311.5 815.7,309.5 814.2,307.5 812.8,305.4 811.4,303.4 810.0,301.3 808.6,299.3 807.1,297.2 805.7,295.2 804.2,293.2 802.7,291.2 801.1,289.2 799.5,287.3 797.8,285.4 796.1,283.6 794.3,281.8 792.5,280.1 790.6,278.4 788.6,276.8 786.6,275.2 784.5,273.8 782.4,272.4 780.2,271.0 778.1,269.8 775.8,268.6 773.6,267.5 771.3,266.4 768.9,265.4 766.6,264.5 764.3,263.7 761.9,262.9 759.5,262.1 757.1,261.4 754.7,260.7 752.3,260.1 749.8,259.4 747.4,258.7 745.0,258.1 742.5,257.4 740.1,256.7 737.7,256.0 735.3,255.3 732.9,254.6 730.5,253.8 728.1,253.1 725.7,252.4 723.2,251.7 720.8,251.0 718.4,250.4 716.0,249.8 713.5,249.2 711.0,248.7 708.6,248.2 706.1,247.7 703.6,247.2 701.2,246.8 698.7,246.4 696.2,246.0 693.7,245.6 691.2,245.3 688.7,244.9 686.2,244.6 683.7,244.3 681.2,244.0 678.7,243.8 676.2,243.5 673.7,243.3 671.2,243.0 668.7,242.8 666.2,242.6 663.6,242.4 661.1,242.2 658.6,242.0 656.1,241.8 653.6,241.6 651.1,241.4 648.6,241.2 646.1,241.0 643.6,240.9 641.1,240.7 638.5,240.5 636.0,240.4 633.5,240.2 Z" stroke="#1b64d8" stroke-width="3.9"/>
<path d="M633.5,235.0 L635.9,234.3 638.3,233.6 640.8,232.9 643.2,232.3 645.7,231.8 648.1,231.2 650.6,230.7 653.1,230.3 655.6,229.9 658.1,229.5 660.6,229.1 663.1,228.7 665.6,228.4 668.1,228.1 670.6,227.8 673.2,227.5 675.7,227.2 678.2,227.0 680.7,226.7 683.2,226.4 685.7,226.2 688.2,225.9 690.8,225.7 693.3,225.4 695.8,225.2 698.3,225.0 700.8,224.7 703.3,224.5 705.8,224.3 708.3,224.1 710.8,223.8 713.3,223.6 715.8,223.4 718.3,223.2 720.8,223.0 723.3,222.8 725.8,222.6 728.3,222.4 730.9,222.3 733.4,222.1 735.9,221.9 738.4,221.7 740.9,221.5 743.4,221.4 745.9,221.2 748.4,221.1 750.9,220.9 753.5,220.7 756.0,220.6 758.5,220.5 761.0,220.3 763.6,220.2 766.1,220.0 768.6,219.9 771.2,219.8 773.7,219.7 776.2,219.6 778.8,219.4 781.3,219.3 783.9,219.1 786.4,219.0 788.9,218.8 791.5,218.6 794.0,218.4 796.5,218.1 799.0,217.8 801.5,217.5 804.0,217.1 806.4,216.7 808.9,216.2 811.3,215.7 813.8,215.1 816.2,214.4 818.6,213.7 820.9,212.9 823.3,212.0 825.6,211.1 827.9,210.1 830.2,209.0 832.5,207.8 834.7,206.5 836.9,205.1 839.1,203.7 841.1,202.2 843.2,200.6 845.1,198.9 847.0,197.1 848.9,195.3 850.6,193.5 852.2,191.5 853.8,189.5 855.3,187.5 856.7,185.4 858.0,183.3 859.3,181.1 860.6,179.0 861.8,176.8 863.1,174.6 864.3,172.4 865.5,170.2 866.7,168.0 867.9,165.8 869.1,163.6 870.2,161.4 871.3,159.1 872.4,156.8 873.4,154.5 874.4,152.2 875.4,149.8 876.4,147.5 877.4,145.2 878.4,142.8 879.5,140.5 880.6,138.3 881.8,136.0 883.1,133.8 884.5,131.7 886.0,129.6 887.6,127.6 889.3,125.7 891.1,123.8 893.1,122.0 895.3,120.4 897.5,118.9 899.8,117.7 902.1,116.8 904.4,116.2 906.7,115.9 909.0,116.0 911.3,116.5 913.5,117.3 915.6,118.4 917.8,119.7 919.9,121.2 921.9,122.8 923.9,124.6 925.8,126.4 927.7,128.2 929.6,130.0 931.4,131.9 933.2,133.6 935.1,135.4 936.9,137.1 938.9,138.7 940.9,140.2 942.9,141.6 945.0,143.0 947.1,144.3 949.3,145.6 951.5,146.7 953.7,147.9 956.0,148.9 958.3,149.9 960.6,150.9 962.9,151.8 965.3,152.7 967.7,153.5 970.1,154.3 972.6,155.0 975.0,155.7 977.5,156.4 979.9,157.0 982.4,157.7 984.9,158.2 987.4,158.8 989.9,159.4 992.3,159.9 994.8,160.4 997.3,160.9 999.8,161.4 1002.2,161.8 1004.7,162.3 1007.2,162.7 1009.7,163.1 1012.2,163.5 1014.6,163.8 1017.1,164.2 1019.6,164.5 1022.1,164.8 1024.6,165.1 1027.1,165.3 1029.6,165.5 1032.1,165.8 1034.6,165.9 1037.1,166.1 1039.7,166.2 1042.2,166.4 1044.7,166.4 1047.3,166.5  L1046.2,168.7 1044.8,170.9 1043.3,172.9 1041.6,174.8 1039.7,176.6 1037.7,178.2 1035.7,179.7 1033.6,181.1 1031.4,182.3 1029.1,183.3 1026.9,184.3 1024.5,185.1 1022.1,185.8 1019.7,186.5 1017.3,187.0 1014.8,187.5 1012.3,188.0 1009.8,188.3 1007.3,188.7 1004.8,189.0 1002.3,189.3 999.7,189.6 997.2,189.8 994.7,190.1 992.2,190.4 989.6,190.7 987.1,191.0 984.6,191.3 982.1,191.6 979.6,191.9 977.1,192.3 974.6,192.6 972.1,193.0 969.7,193.4 967.2,193.8 964.7,194.2 962.3,194.7 959.8,195.1 957.4,195.6 954.9,196.2 952.5,196.7 950.1,197.4 947.7,198.0 945.3,198.7 942.9,199.4 940.5,200.1 938.1,200.9 935.7,201.8 933.4,202.6 931.0,203.6 928.7,204.6 926.4,205.6 924.1,206.7 921.8,207.8 919.5,209.0 917.3,210.2 915.1,211.5 912.9,212.9 910.8,214.3 908.7,215.7 906.7,217.2 904.7,218.8 902.8,220.4 901.0,222.1 899.2,223.8 897.4,225.6 895.7,227.4 894.1,229.3 892.5,231.2 890.9,233.1 889.3,235.0 887.7,237.0 886.2,239.0 884.6,241.0 883.1,243.0 881.5,245.0 880.0,247.0 878.4,249.0 876.9,251.0 875.3,253.0 873.8,255.1 872.3,257.1 870.9,259.2 869.5,261.3 868.2,263.5 867.0,265.6 865.9,267.9 864.9,270.2 863.9,272.5 863.0,274.8 862.1,277.1 861.2,279.5 860.2,281.8 859.2,284.1 858.0,286.3 856.8,288.5 855.5,290.6 854.0,292.7 852.5,294.7 850.8,296.7 849.1,298.5 847.2,300.3 845.2,302.0 843.1,303.5 840.9,304.6 838.5,305.2 836.2,305.4 833.8,304.9 831.5,304.0 829.4,302.8 827.4,301.2 825.6,299.5 823.9,297.6 822.1,295.7 820.4,293.8 818.8,291.9 817.1,289.9 815.4,288.0 813.8,286.0 812.1,284.1 810.4,282.2 808.8,280.3 807.1,278.4 805.4,276.6 803.6,274.8 801.9,273.0 800.1,271.3 798.2,269.6 796.4,267.9 794.4,266.4 792.5,264.8 790.4,263.4 788.4,262.0 786.2,260.7 784.0,259.5 781.8,258.3 779.6,257.2 777.3,256.1 774.9,255.1 772.6,254.2 770.2,253.3 767.8,252.5 765.3,251.8 762.9,251.1 760.4,250.4 757.9,249.8 755.5,249.3 753.0,248.8 750.5,248.4 748.0,248.0 745.6,247.6 743.1,247.2 740.6,246.8 738.2,246.4 735.7,245.9 733.3,245.3 730.9,244.6 728.4,244.0 726.0,243.3 723.6,242.6 721.1,241.9 718.7,241.3 716.2,240.7 713.8,240.2 711.3,239.7 708.8,239.3 706.4,238.9 703.9,238.5 701.4,238.2 698.9,237.9 696.4,237.6 693.9,237.4 691.4,237.2 688.9,237.0 686.4,236.8 683.8,236.7 681.3,236.6 678.8,236.5 676.3,236.4 673.7,236.3 671.2,236.2 668.7,236.2 666.2,236.1 663.6,236.1 661.1,236.0 658.6,236.0 656.1,235.9 653.6,235.9 651.0,235.8 648.5,235.7 646.0,235.7 643.5,235.6 641.0,235.4 638.5,235.3 636.0,235.2 633.5,235.0 Z" stroke="#24a263" stroke-width="3.9"/>
<path d="M633.5,234.2 L636.0,233.7 638.5,233.3 640.9,232.7 643.4,232.2 645.9,231.7 648.3,231.1 650.8,230.5 653.3,230.0 655.7,229.4 658.2,228.8 660.7,228.3 663.1,227.7 665.6,227.1 668.1,226.6 670.6,226.1 673.0,225.6 675.5,225.1 678.0,224.7 680.5,224.3 683.0,223.9 685.5,223.6 688.0,223.3 690.5,223.0 693.0,222.7 695.5,222.5 698.0,222.3 700.6,222.1 703.1,221.9 705.6,221.8 708.1,221.6 710.7,221.5 713.2,221.4 715.7,221.3 718.2,221.2 720.8,221.1 723.3,221.0 725.8,220.9 728.4,220.8 730.9,220.7 733.4,220.6 736.0,220.5 738.5,220.3 741.0,220.2 743.5,220.0 746.1,219.9 748.6,219.7 751.1,219.5 753.6,219.3 756.1,219.1 758.7,218.9 761.2,218.8 763.7,218.6 766.2,218.4 768.7,218.3 771.3,218.1 773.8,218.0 776.3,217.8 778.8,217.7 781.3,217.7 783.9,217.6 786.4,217.6 788.9,217.6 791.5,217.6 794.0,217.7 796.5,217.7 799.0,217.6 801.5,217.5 804.1,217.2 806.5,216.9 809.0,216.5 811.5,216.0 814.0,215.4 816.5,214.8 818.9,214.2 821.4,213.6 823.8,212.9 826.3,212.2 828.7,211.5 831.1,210.7 833.5,209.8 835.8,208.9 838.1,207.8 840.3,206.7 842.5,205.4 844.7,203.9 846.7,202.4 848.7,200.8 850.7,199.1 852.5,197.3 854.3,195.4 856.0,193.5 857.6,191.6 859.2,189.6 860.6,187.6 862.0,185.5 863.4,183.5 864.7,181.4 866.0,179.3 867.3,177.2 868.6,175.0 869.9,172.9 871.2,170.8 872.5,168.6 873.9,166.5 875.3,164.4 876.8,162.3 878.3,160.1 879.9,158.1 881.6,156.0 883.4,154.0 885.2,152.1 887.2,150.3 889.2,148.7 891.3,147.3 893.4,146.2 895.6,145.5 897.8,145.1 900.2,145.1 902.5,145.5 904.8,146.2 907.1,147.3 909.3,148.6 911.5,150.1 913.7,151.6 915.8,153.2 918.0,154.6 920.1,156.0 922.3,157.3 924.5,158.5 926.7,159.7 928.9,160.8 931.2,161.9 933.5,162.9 935.8,163.8 938.1,164.8 940.5,165.7 942.9,166.6 945.3,167.4 947.7,168.2 950.1,169.0 952.5,169.8 954.9,170.5 957.3,171.2 959.8,171.9 962.2,172.6 964.7,173.2 967.1,173.9 969.6,174.5 972.0,175.0 974.5,175.6 977.0,176.1 979.4,176.6 981.9,177.1 984.4,177.5 986.9,178.0 989.4,178.4 991.9,178.8 994.4,179.2 996.9,179.5 999.4,179.8 1001.9,180.2 1004.4,180.5 1006.9,180.7 1009.4,181.0 1011.9,181.2 1014.5,181.4 1017.0,181.6 1019.5,181.8 1022.0,182.0 1024.5,182.1 1027.1,182.3 1029.6,182.4 1032.1,182.5 1034.7,182.5 1037.2,182.6 1039.7,182.6 1042.2,182.7 1044.8,182.7 1047.3,182.7  L1045.2,184.3 1043.1,185.8 1040.9,187.1 1038.7,188.3 1036.5,189.4 1034.2,190.4 1031.9,191.3 1029.5,192.1 1027.1,192.8 1024.7,193.4 1022.3,193.9 1019.8,194.4 1017.3,194.8 1014.9,195.2 1012.3,195.5 1009.8,195.8 1007.3,196.0 1004.7,196.2 1002.2,196.4 999.6,196.6 997.1,196.8 994.5,197.0 992.0,197.2 989.4,197.4 986.9,197.6 984.4,197.8 981.8,198.0 979.3,198.3 976.8,198.6 974.3,198.9 971.8,199.2 969.3,199.6 966.8,199.9 964.3,200.3 961.9,200.7 959.4,201.2 956.9,201.6 954.5,202.1 952.0,202.6 949.6,203.2 947.1,203.7 944.7,204.3 942.2,204.9 939.8,205.5 937.4,206.2 934.9,206.9 932.5,207.6 930.1,208.3 927.7,209.1 925.3,209.9 922.9,210.7 920.5,211.6 918.1,212.5 915.7,213.4 913.4,214.4 911.0,215.4 908.7,216.4 906.4,217.5 904.2,218.7 901.9,219.8 899.7,221.1 897.6,222.3 895.4,223.7 893.4,225.1 891.4,226.7 889.6,228.4 887.8,230.2 886.2,232.1 884.5,234.0 882.9,236.0 881.3,238.0 879.6,239.9 877.9,241.8 876.2,243.6 874.5,245.5 872.8,247.4 871.2,249.3 869.6,251.3 868.2,253.2 866.7,255.3 865.3,257.3 863.9,259.4 862.4,261.5 860.9,263.5 859.3,265.6 857.7,267.6 855.9,269.5 854.1,271.3 852.1,273.0 850.0,274.6 847.7,275.9 845.4,276.8 843.1,277.3 840.8,277.1 838.6,276.4 836.4,275.3 834.3,273.8 832.2,272.2 830.3,270.5 828.4,268.7 826.5,266.9 824.6,265.1 822.8,263.3 821.0,261.4 819.2,259.6 817.4,257.8 815.6,256.1 813.7,254.4 811.8,252.8 809.9,251.3 807.8,249.9 805.7,248.7 803.5,247.5 801.2,246.5 798.9,245.7 796.4,244.9 794.0,244.2 791.5,243.6 788.9,243.0 786.4,242.5 783.9,242.0 781.3,241.5 778.8,241.0 776.3,240.4 773.9,239.9 771.4,239.4 768.9,238.9 766.5,238.4 764.0,237.9 761.6,237.4 759.1,237.0 756.7,236.5 754.2,236.1 751.7,235.7 749.3,235.3 746.8,234.9 744.3,234.5 741.8,234.2 739.3,233.8 736.8,233.5 734.3,233.2 731.8,232.9 729.2,232.6 726.7,232.3 724.2,232.0 721.7,231.7 719.2,231.4 716.6,231.1 714.1,230.9 711.6,230.6 709.1,230.4 706.6,230.1 704.0,229.8 701.5,229.6 699.0,229.3 696.5,229.1 694.0,228.8 691.5,228.5 689.0,228.3 686.4,228.0 683.9,227.8 681.4,227.6 678.9,227.3 676.4,227.1 673.9,226.9 671.4,226.7 668.9,226.6 666.4,226.4 663.9,226.3 661.3,226.1 658.8,226.0 656.3,225.9 653.8,225.9 651.3,225.8 648.7,225.8 646.2,225.8 643.7,225.9 641.1,225.9 638.6,226.0 636.0,226.1 633.5,226.3 Z" stroke="#ad6ad8" stroke-width="3.9"/>
</g>
<rect x="634.2" y="21.0" width="432.5" height="554.5" fill="none" stroke="#000" stroke-width="2.3"/>
<text transform="translate(633.7,603.2) scale(1.070,1)" font-size="20.4" text-anchor="middle" font-weight="normal" >-0.4</text>
<text transform="translate(708.9,603.2) scale(1.070,1)" font-size="20.4" text-anchor="middle" font-weight="normal" >-0.2</text>
<text transform="translate(784.1,603.2) scale(1.070,1)" font-size="20.4" text-anchor="middle" font-weight="normal" >0</text>
<text transform="translate(859.4,603.2) scale(1.070,1)" font-size="20.4" text-anchor="middle" font-weight="normal" >0.2</text>
<text transform="translate(934.6,603.2) scale(1.070,1)" font-size="20.4" text-anchor="middle" font-weight="normal" >0.4</text>
<text transform="translate(1009.8,603.2) scale(1.070,1)" font-size="20.4" text-anchor="middle" font-weight="normal" >0.6</text>
<text transform="translate(619.3,27.6) scale(1.070,1)" font-size="20.4" text-anchor="end" font-weight="normal" >6</text>
<text transform="translate(619.3,89.2) scale(1.070,1)" font-size="20.4" text-anchor="end" font-weight="normal" >4</text>
<text transform="translate(619.3,150.8) scale(1.070,1)" font-size="20.4" text-anchor="end" font-weight="normal" >2</text>
<text transform="translate(619.3,212.4) scale(1.070,1)" font-size="20.4" text-anchor="end" font-weight="normal" >0</text>
<text transform="translate(619.3,274.0) scale(1.070,1)" font-size="20.4" text-anchor="end" font-weight="normal" >-2</text>
<text transform="translate(619.3,335.7) scale(1.070,1)" font-size="20.4" text-anchor="end" font-weight="normal" >-4</text>
<text transform="translate(619.3,397.3) scale(1.070,1)" font-size="20.4" text-anchor="end" font-weight="normal" >-6</text>
<text transform="translate(619.3,458.9) scale(1.070,1)" font-size="20.4" text-anchor="end" font-weight="normal" >-8</text>
<text transform="translate(619.3,520.5) scale(1.070,1)" font-size="20.4" text-anchor="end" font-weight="normal" >-10</text>
<text transform="translate(619.3,582.1) scale(1.070,1)" font-size="20.4" text-anchor="end" font-weight="normal" >-12</text>
<line x1="131.8" y1="76.4" x2="186.3" y2="76.4" stroke="#4a4a4a" stroke-width="4.0" stroke-linecap="round"/>
<text transform="translate(193.5,83.1) scale(1.040,1)" font-size="21.6" text-anchor="start" font-weight="normal" letter-spacing="0.35">100 mVs<tspan font-size="14.5" dy="-9.5">-1</tspan></text>
<line x1="131.8" y1="104.5" x2="186.3" y2="104.5" stroke="#f03c3c" stroke-width="3.4" stroke-linecap="round"/>
<text transform="translate(193.5,111.2) scale(1.040,1)" font-size="21.6" text-anchor="start" font-weight="normal" letter-spacing="0.35">80 mVs<tspan font-size="14.5" dy="-9.5">-1</tspan></text>
<line x1="131.8" y1="132.5" x2="186.3" y2="132.5" stroke="#1b64d8" stroke-width="3.4" stroke-linecap="round"/>
<text transform="translate(193.5,139.2) scale(1.040,1)" font-size="21.6" text-anchor="start" font-weight="normal" letter-spacing="0.35">60 mVs<tspan font-size="14.5" dy="-9.5">-1</tspan></text>
<line x1="131.8" y1="160.7" x2="186.3" y2="160.7" stroke="#24a263" stroke-width="3.4" stroke-linecap="round"/>
<text transform="translate(193.5,167.4) scale(1.040,1)" font-size="21.6" text-anchor="start" font-weight="normal" letter-spacing="0.35">40 mVs<tspan font-size="14.5" dy="-9.5">-1</tspan></text>
<line x1="131.8" y1="188.7" x2="186.3" y2="188.7" stroke="#ad6ad8" stroke-width="3.4" stroke-linecap="round"/>
<text transform="translate(193.5,195.4) scale(1.040,1)" font-size="21.6" text-anchor="start" font-weight="normal" letter-spacing="0.35">20 mVs<tspan font-size="14.5" dy="-9.5">-1</tspan></text>
<line x1="660.4" y1="76.1" x2="714.6" y2="76.1" stroke="#4a4a4a" stroke-width="4.0" stroke-linecap="round"/>
<text transform="translate(721.5,82.8) scale(1.040,1)" font-size="21.6" text-anchor="start" font-weight="normal" letter-spacing="0.35">100 mVs<tspan font-size="14.5" dy="-9.5">-1</tspan></text>
<line x1="660.4" y1="104.0" x2="714.6" y2="104.0" stroke="#f03c3c" stroke-width="3.4" stroke-linecap="round"/>
<text transform="translate(721.5,110.7) scale(1.040,1)" font-size="21.6" text-anchor="start" font-weight="normal" letter-spacing="0.35">80 mVs<tspan font-size="14.5" dy="-9.5">-1</tspan></text>
<line x1="660.4" y1="132.2" x2="714.6" y2="132.2" stroke="#1b64d8" stroke-width="3.4" stroke-linecap="round"/>
<text transform="translate(721.5,138.9) scale(1.040,1)" font-size="21.6" text-anchor="start" font-weight="normal" letter-spacing="0.35">60 mVs<tspan font-size="14.5" dy="-9.5">-1</tspan></text>
<line x1="660.4" y1="160.6" x2="714.6" y2="160.6" stroke="#24a263" stroke-width="3.4" stroke-linecap="round"/>
<text transform="translate(721.5,167.3) scale(1.040,1)" font-size="21.6" text-anchor="start" font-weight="normal" letter-spacing="0.35">40 mVs<tspan font-size="14.5" dy="-9.5">-1</tspan></text>
<line x1="660.4" y1="187.8" x2="714.6" y2="187.8" stroke="#ad6ad8" stroke-width="3.4" stroke-linecap="round"/>
<text transform="translate(721.5,194.5) scale(1.040,1)" font-size="21.6" text-anchor="start" font-weight="normal" letter-spacing="0.35">20 mVs<tspan font-size="14.5" dy="-9.5">-1</tspan></text>
<text transform="translate(105.6,46.0) scale(1.030,1)" font-size="27.0" text-anchor="start" font-weight="bold" letter-spacing="2.2">(a)</text>
<text transform="translate(647.0,46.3) scale(1.030,1)" font-size="27.0" text-anchor="start" font-weight="bold" letter-spacing="2.2">(b)</text>
<text transform="translate(307.5,640) scale(1.180,1)" font-size="23" text-anchor="middle">Potential vs E<tspan font-size="16" dy="7">Ag/AgCl</tspan><tspan dy="-7" dx="4.2">(V)</tspan></text>
<text transform="translate(850.3,640) scale(1.180,1)" font-size="23" text-anchor="middle">Potential vs E<tspan font-size="16" dy="7">Ag/AgCl</tspan><tspan dy="-7" dx="4.2">(V)</tspan></text>
<text transform="translate(31.6,271) rotate(-90) scale(1,1.190)" font-size="23" text-anchor="middle">Current (mA)</text>
<text transform="translate(582.1,277.6) rotate(-90) scale(1,1.190)" font-size="23" text-anchor="middle">Current (mA)</text>
<rect x="295.7" y="374.0" width="219.9" height="158.9" fill="#fff" stroke="#6b6b6b" stroke-width="1.1"/>
<text transform="translate(295.7,540.4) scale(1.080,1)" font-size="9.2" text-anchor="middle" font-weight="normal" class="sm">4</text>
<text transform="translate(329.5,540.4) scale(1.080,1)" font-size="9.2" text-anchor="middle" font-weight="normal" class="sm">5</text>
<text transform="translate(363.4,540.4) scale(1.080,1)" font-size="9.2" text-anchor="middle" font-weight="normal" class="sm">6</text>
<text transform="translate(397.2,540.4) scale(1.080,1)" font-size="9.2" text-anchor="middle" font-weight="normal" class="sm">7</text>
<text transform="translate(431.0,540.4) scale(1.080,1)" font-size="9.2" text-anchor="middle" font-weight="normal" class="sm">8</text>
<text transform="translate(464.8,540.4) scale(1.080,1)" font-size="9.2" text-anchor="middle" font-weight="normal" class="sm">9</text>
<text transform="translate(498.7,540.4) scale(1.080,1)" font-size="9.2" text-anchor="middle" font-weight="normal" class="sm">10</text>
<text transform="translate(295.0,388.2) scale(1.040,1)" font-size="9.6" text-anchor="end" font-weight="normal" class="sm">1.00</text>
<text transform="translate(295.0,411.0) scale(1.040,1)" font-size="9.6" text-anchor="end" font-weight="normal" class="sm">0.95</text>
<text transform="translate(295.0,433.8) scale(1.040,1)" font-size="9.6" text-anchor="end" font-weight="normal" class="sm">0.90</text>
<text transform="translate(295.0,456.6) scale(1.040,1)" font-size="9.6" text-anchor="end" font-weight="normal" class="sm">0.85</text>
<text transform="translate(295.0,479.4) scale(1.040,1)" font-size="9.6" text-anchor="end" font-weight="normal" class="sm">0.80</text>
<text transform="translate(295.0,502.2) scale(1.040,1)" font-size="9.6" text-anchor="end" font-weight="normal" class="sm">0.75</text>
<text transform="translate(295.0,525.0) scale(1.040,1)" font-size="9.6" text-anchor="end" font-weight="normal" class="sm">0.70</text>
<ellipse cx="311.4" cy="522.2" rx="4.0" ry="3.5" fill="#000"/>
<ellipse cx="374.3" cy="476.0" rx="4.0" ry="3.5" fill="#000"/>
<ellipse cx="422.5" cy="437.7" rx="4.0" ry="3.5" fill="#000"/>
<ellipse cx="462.8" cy="404.3" rx="4.0" ry="3.5" fill="#000"/>
<ellipse cx="498.6" cy="385.6" rx="4.0" ry="3.5" fill="#000"/>
<line x1="311.2" y1="521.8" x2="498.4" y2="381.5" stroke="#f5100e" stroke-width="2.2"/>
<text transform="translate(268.0,460.5) rotate(-90) scale(1,1.15)" font-size="11.6" text-anchor="middle" class="sm">Current (mA)</text>
<text transform="translate(405.0,557.4) scale(1.15,1)" font-size="10.8" text-anchor="middle" class="sm">&#965;<tspan font-size="7.5" dy="-4.5">1/2</tspan><tspan dy="4.5"> (mV/s)</tspan></text>
<rect x="831.0" y="373.8" width="229.6" height="160.2" fill="#fff" stroke="#6b6b6b" stroke-width="1.1"/>
<text transform="translate(831.0,541.5) scale(1.080,1)" font-size="9.2" text-anchor="middle" font-weight="normal" class="sm">4</text>
<text transform="translate(866.4,541.5) scale(1.080,1)" font-size="9.2" text-anchor="middle" font-weight="normal" class="sm">5</text>
<text transform="translate(901.8,541.5) scale(1.080,1)" font-size="9.2" text-anchor="middle" font-weight="normal" class="sm">6</text>
<text transform="translate(937.2,541.5) scale(1.080,1)" font-size="9.2" text-anchor="middle" font-weight="normal" class="sm">7</text>
<text transform="translate(972.6,541.5) scale(1.080,1)" font-size="9.2" text-anchor="middle" font-weight="normal" class="sm">8</text>
<text transform="translate(1008.0,541.5) scale(1.080,1)" font-size="9.2" text-anchor="middle" font-weight="normal" class="sm">9</text>
<text transform="translate(1043.4,541.5) scale(1.080,1)" font-size="9.2" text-anchor="middle" font-weight="normal" class="sm">10</text>
<text transform="translate(830.0,387.7) scale(1.040,1)" font-size="9.6" text-anchor="end" font-weight="normal" class="sm">5.0</text>
<text transform="translate(830.0,410.7) scale(1.040,1)" font-size="9.6" text-anchor="end" font-weight="normal" class="sm">4.5</text>
<text transform="translate(830.0,433.8) scale(1.040,1)" font-size="9.6" text-anchor="end" font-weight="normal" class="sm">4.0</text>
<text transform="translate(830.0,456.8) scale(1.040,1)" font-size="9.6" text-anchor="end" font-weight="normal" class="sm">3.5</text>
<text transform="translate(830.0,479.8) scale(1.040,1)" font-size="9.6" text-anchor="end" font-weight="normal" class="sm">3.0</text>
<text transform="translate(830.0,502.8) scale(1.040,1)" font-size="9.6" text-anchor="end" font-weight="normal" class="sm">2.5</text>
<text transform="translate(830.0,525.9) scale(1.040,1)" font-size="9.6" text-anchor="end" font-weight="normal" class="sm">2.0</text>
<ellipse cx="847.5" cy="523.4" rx="4.0" ry="3.5" fill="#000"/>
<ellipse cx="913.2" cy="481.9" rx="4.0" ry="3.5" fill="#000"/>
<ellipse cx="963.3" cy="448.3" rx="4.0" ry="3.5" fill="#000"/>
<ellipse cx="1005.4" cy="420.0" rx="4.0" ry="3.5" fill="#000"/>
<ellipse cx="1042.8" cy="389.5" rx="4.0" ry="3.5" fill="#000"/>
<line x1="847.1" y1="525.3" x2="1042.8" y2="392.4" stroke="#f5100e" stroke-width="2.2"/>
<text transform="translate(808.0,460.5) rotate(-90) scale(1,1.15)" font-size="11.6" text-anchor="middle" class="sm">Current (mA)</text>
<text transform="translate(945.5,558.5) scale(1.15,1)" font-size="10.8" text-anchor="middle" class="sm">&#965;<tspan font-size="7.5" dy="-4.5">1/2</tspan><tspan dy="4.5"> (mV/s)</tspan></text>
</svg></body></html>
